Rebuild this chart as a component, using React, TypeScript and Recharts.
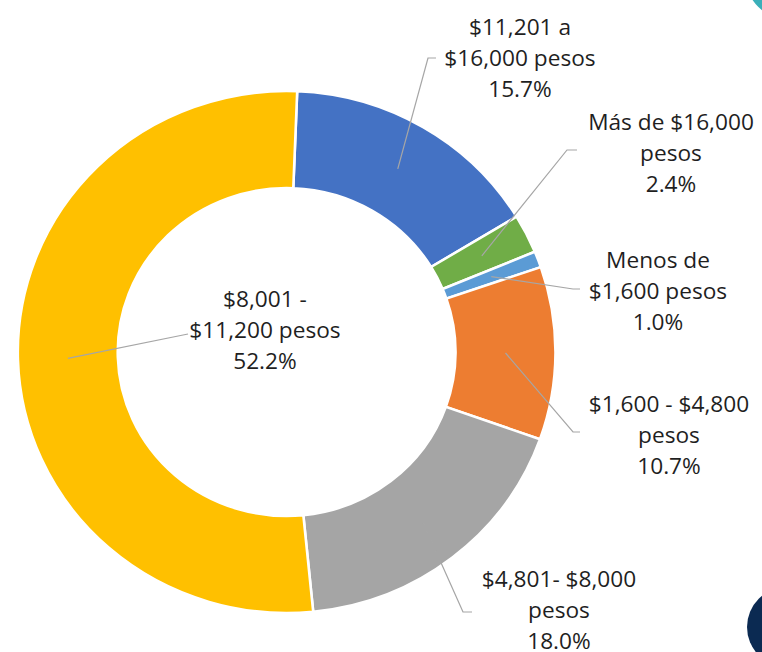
import React from "react";
import { PieChart, Pie, Cell } from "recharts";

// income brackets, clockwise from the top
const CATEGORIES = [
  "$11,201 a $16,000 pesos",
  "Más de $16,000 pesos",
  "Menos de $1,600 pesos",
  "$1,600 - $4,800 pesos",
  "$4,801- $8,000 pesos",
  "$8,001 - $11,200 pesos",
];
const LABEL_LINES = [
  ["$11,201 a", "$16,000 pesos"],
  ["Más de $16,000", "pesos"],
  ["Menos de", "$1,600 pesos"],
  ["$1,600 - $4,800", "pesos"],
  ["$4,801- $8,000", "pesos"],
  ["$8,001 -", "$11,200 pesos"],
];
const SHARES = [15.7, 2.4, 1.0, 10.7, 18.0, 52.2];

const COLORS = ["#4472C4", "#70AD47", "#5B9BD5", "#ED7D31", "#A5A5A5", "#FFC000"];

// label text centre (middle line) and leader end, in screen pixels
const LABEL_LAYOUT = [
  { tx: 520, ty: 58, ex: 428, ey: 58, tick: 8 },
  { tx: 671, ty: 153, ex: 567, ey: 150, tick: 10 },
  { tx: 658, ty: 291, ex: 573, ey: 289, tick: 7 },
  { tx: 669, ty: 435, ex: 573, ey: 432, tick: 7 },
  { tx: 559, ty: 610, ex: 463, ey: 612, tick: 9 },
  { tx: 265, ty: 330, ex: 188, ey: 334, tick: 0 },
];

const data = CATEGORIES.map((name, i) => ({ name, value: SHARES[i] }));

// the original donut is a touch wider than tall
const SX = 1.03;
const RAD = Math.PI / 180;
const FONT = "'Open Sans', sans-serif";

function renderLabel(props: any) {
  const { cx, cy, midAngle, innerRadius, outerRadius, index, value } = props;
  const r = (innerRadius + outerRadius) / 2;
  const sx = cx + r * Math.cos(-midAngle * RAD);
  const sy = cy + r * Math.sin(-midAngle * RAD);
  const l = LABEL_LAYOUT[index];
  const ex = l.ex / SX;
  const lines = [...LABEL_LINES[index], `${Number(value).toFixed(1)}%`];
  return (
    <g key={`lbl-${index}`}>
      <polyline
        points={`${sx},${sy} ${ex},${l.ey} ${ex + l.tick / SX},${l.ey}`}
        fill="none"
        stroke="#A6A6A6"
        strokeWidth={1.2}
      />
      {lines.map((t, j) => (
        <text
          key={j}
          x={l.tx / SX}
          y={l.ty + (j - 1) * 31}
          textAnchor="middle"
          dominantBaseline="central"
          fill="#1f1f1f"
          fontSize={22}
          fontFamily={FONT}
        >
          {t}
        </text>
      ))}
    </g>
  );
}

export default function App() {
  return (
    <div
      style={{
        position: "absolute",
        left: 0,
        top: 0,
        width: 762,
        height: 652,
        overflow: "hidden",
        background: "#fff",
      }}
    >
      <div style={{ transform: `scaleX(${SX})`, transformOrigin: "0 0", width: 740, height: 652 }}>
        <PieChart width={740} height={652}>
          <Pie
            data={data}
            dataKey="value"
            nameKey="name"
            cx={273.3}
            cy={347}
            innerRadius={164}
            outerRadius={261}
            startAngle={87.75}
            endAngle={-272.25}
            stroke="#fff"
            strokeWidth={2.5}
            label={renderLabel}
            labelLine={false}
            isAnimationActive={false}
          >
            {data.map((d, i) => (
              <Cell key={d.name} fill={COLORS[i]} />
            ))}
          </Pie>
        </PieChart>
      </div>
      {/* slide decorations peeking in at the corners */}
      <div
        style={{
          position: "absolute",
          left: 745,
          top: -70,
          width: 90,
          height: 90,
          borderRadius: "50%",
          background: "#3AAFB9",
        }}
      />
      <div
        style={{
          position: "absolute",
          left: 747,
          top: 587,
          width: 80,
          height: 80,
          borderRadius: "50%",
          background: "#0B2A52",
        }}
      />
    </div>
  );
}
